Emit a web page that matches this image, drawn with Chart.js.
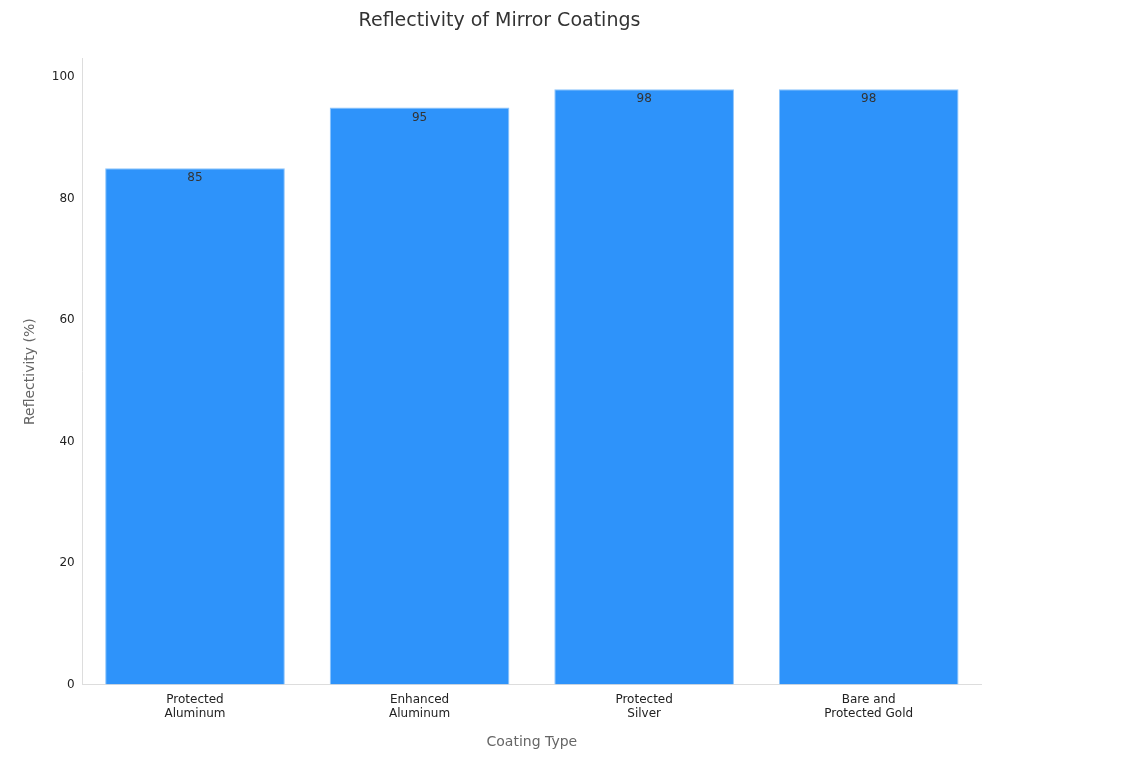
<!DOCTYPE html>
<html><head><meta charset="utf-8">
<script src="https://cdn.jsdelivr.net/npm/chart.js@4/dist/chart.umd.min.js"></script>
<style>html,body{margin:0;padding:0;background:#fff}#w{width:1132px;height:769px}</style>
</head><body><div id="w"><canvas id="c"></canvas></div>
<script>
const categories = [["Protected","Aluminum"],["Enhanced","Aluminum"],["Protected","Silver"],["Bare and","Protected Gold"]];
const reflectivity = [85, 95, 98, 98];
const yTicks = [0, 20, 40, 60, 80, 100];

Chart.defaults.font.family = "DejaVu Sans";
const labelPlugin = {
  id: 'vals',
  afterDatasetsDraw(chart) {
    const ctx = chart.ctx;
    const meta = chart.getDatasetMeta(0);
    ctx.save();
    ctx.font = '12px DejaVu Sans';
    ctx.fillStyle = '#333';
    ctx.textAlign = 'center';
    ctx.textBaseline = 'top';
    meta.data.forEach((bar, i) => {
      ctx.fillText(String(reflectivity[i]), bar.x, bar.y + 4);
    });
    ctx.restore();
  }
};
new Chart(document.getElementById('c'), {
  type: 'bar',
  data: { labels: categories, datasets: [{ data: reflectivity, backgroundColor: '#2E93FA', borderColor: '#8CC4FB', borderWidth: 1, categoryPercentage: 0.8, barPercentage: 1 }] },
  options: {
    responsive: true, maintainAspectRatio: false, animation: false,
    layout: { padding: { left: 18, right: 151, top: 10, bottom: 14 } },
    plugins: {
      legend: { display: false }, tooltip: { enabled: false },
      title: { display: true, text: 'Reflectivity of Mirror Coatings', color: '#333', font: { size: 19, weight: 'normal' }, padding: { top: 0, bottom: 26 } }
    },
    scales: {
      x: {
        grid: { display: false, drawTicks: true, tickLength: 5 },
        border: { color: '#ddd' },
        ticks: { color: '#222', font: { size: 12 } },
        title: { display: true, text: 'Coating Type', color: '#666', font: { size: 14 }, padding: { top: 10 } }
      },
      y: {
        min: 0, max: 103,
        afterBuildTicks: (s) => { s.ticks = yTicks.map(v => ({ value: v })); },
        grid: { display: false, drawTicks: true, tickLength: 5 },
        border: { color: '#ddd' },
        ticks: { color: '#222', font: { size: 12 } },
        title: { display: true, text: 'Reflectivity (%)', color: '#666', font: { size: 14 }, padding: { bottom: 10 } }
      }
    }
  },
  plugins: [labelPlugin]
});
</script></body></html>
